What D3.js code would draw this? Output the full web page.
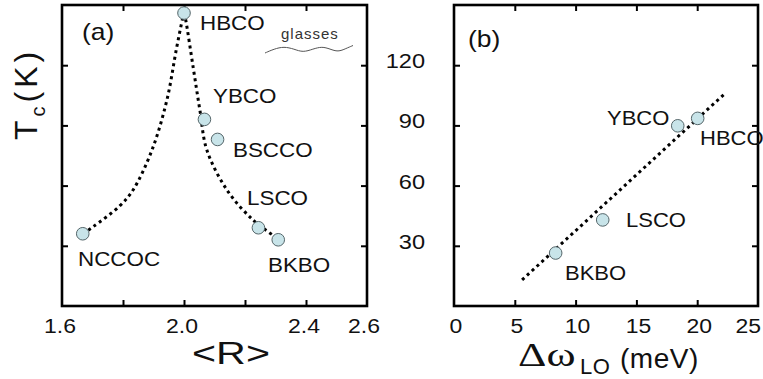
<!DOCTYPE html>
<html lang="en">
<head>
<meta charset="utf-8">
<title>Tc vs R and LO phonon shift</title>
<style>
  body { margin: 0; background: #fff; }
  svg { display: block; }
  text { font-family: "Liberation Sans", Arial, sans-serif; fill: #111; }
</style>
<script src="https://cdn.jsdelivr.net/npm/d3@7"></script>
</head>
<body>
<svg id="chart"></svg>
<script>
// ---- data ----
// panel (a): Tc against mean coordination <R>
const aNames = ["NCCOC", "HBCO", "YBCO", "BSCCO", "LSCO", "BKBO"];
const aR     = [1.668, 2.0, 2.067, 2.11, 2.244, 2.309];
const aTc    = [36, 146, 93, 83, 39, 33];
// dotted guide through the points (left and right branch)
const curveLeftR   = [1.668, 1.702, 1.79, 1.833, 1.895, 1.944, 1.975, 1.995];
const curveLeftTc  = [36, 39.5, 50, 57.8, 77.7, 102.7, 128, 143];
const curveRightR  = [2.005, 2.03, 2.052, 2.075, 2.141, 2.226, 2.305];
const curveRightTc = [143, 119, 97.7, 77.7, 57.8, 42.9, 33.9];

// panel (b): Tc against LO phonon softening
const bNames = ["BKBO", "LSCO", "YBCO", "HBCO"];
const bDw    = [8.36, 12.23, 18.4, 20.04];
const bTc    = [26.4, 42.9, 89.8, 93.5];
const fitDw  = [5.6, 22.3];
const fitTc  = [13, 106];

// ticks
const yTickVals   = [30, 60, 90, 120];
const aTickVals   = [1.8, 2.0, 2.2, 2.4];
const aLabelVals  = [1.6, 2.0, 2.4, 2.6];
const bTickVals   = [5, 10, 15, 20];
const bLabelVals  = [0, 5, 10, 15, 20, 25];

// "glasses" squiggle
const waveX = [265, 274, 284, 294, 303, 313, 322, 330, 338, 346, 353];
const waveY = [53, 49, 46.5, 49, 52.5, 49, 46.5, 49, 52, 48.5, 45.5];

// ---- layout ----
const width = 763, height = 379;
const plotTop = 5, plotBottom = 306;

const svg = d3.select("#chart").attr("width", width).attr("height", height);

const y  = d3.scaleLinear().domain([0, 150]).range([plotBottom, plotTop]);
const xA = d3.scaleLinear().domain([1.6, 2.6]).range([62, 367]);
const xB = d3.scaleLinear().domain([0, 25]).range([454, 758]);

const dotStyle = g => g.attr("fill", "none").attr("stroke", "#000")
    .attr("stroke-width", 3).attr("stroke-dasharray", "3,3.6");

function frame(x) {
    const [x0, x1] = x.range();
    const g = svg.append("g");
    // inward ticks on all four sides
    const axes = [
        [d3.axisBottom(x), `translate(0,${plotBottom})`, x === xA ? aTickVals : bTickVals],
        [d3.axisTop(x), `translate(0,${plotTop})`, x === xA ? aTickVals : bTickVals],
        [d3.axisLeft(y), `translate(${x0},0)`, yTickVals],
        [d3.axisRight(y), `translate(${x1},0)`, yTickVals]
    ];
    axes.forEach(([ax, tr, vals]) => {
        const a = g.append("g").attr("transform", tr)
            .call(ax.tickValues(vals).tickSize(-6).tickFormat(""));
        a.select(".domain").remove();
        a.selectAll("line").attr("stroke", "#000").attr("stroke-width", 2);
    });
    g.append("rect")
        .attr("x", x0).attr("y", plotTop)
        .attr("width", x1 - x0).attr("height", plotBottom - plotTop)
        .attr("fill", "none").attr("stroke", "#000").attr("stroke-width", 2.6);
}

function points(x, xs, ys) {
    svg.append("g").selectAll("circle")
        .data(xs.map((v, i) => [v, ys[i]]))
        .join("circle")
        .attr("cx", d => x(d[0]))
        .attr("cy", d => y(d[1]))
        .attr("r", 6.3)
        .attr("fill", "#c8e4e9")
        .attr("stroke", "#55666a")
        .attr("stroke-width", 1);
}

function label(x0, y0, s, size, spacing, anchor) {
    return svg.append("text")
        .attr("x", x0).attr("y", y0)
        .attr("font-size", size)
        .attr("letter-spacing", spacing)
        .attr("text-anchor", anchor || "start")
        .text(s);
}

// wide text: stretched horizontally like the original
function wide(x0, y0, s, size, sx, anchor) {
    return svg.append("text")
        .attr("transform", `translate(${x0},${y0}) scale(${sx},1)`)
        .attr("font-size", size)
        .attr("text-anchor", anchor || "start")
        .text(s);
}

// ---- panel (a) ----
const lineA = d3.line().x(d => xA(d[0])).y(d => y(d[1])).curve(d3.curveCatmullRom);
svg.append("path")
    .datum(curveLeftR.map((v, i) => [v, curveLeftTc[i]]).concat([[2.0, 146]]))
    .attr("d", lineA).call(dotStyle);
svg.append("path")
    .datum([[2.0, 146]].concat(curveRightR.map((v, i) => [v, curveRightTc[i]])))
    .attr("d", lineA).call(dotStyle);

frame(xA);
points(xA, aR, aTc);

const aLabelPos = {
    "NCCOC": [78, 266], "HBCO": [200, 30], "YBCO": [213, 103],
    "BSCCO": [233, 157], "LSCO": [247, 205], "BKBO": [268, 272]
};
aNames.forEach(n => wide(aLabelPos[n][0], aLabelPos[n][1], n, 20, 1.12));

wide(82, 40, "(a)", 23, 1.15);

// glasses squiggle
label(281, 39, "glasses", 15, 1).style("fill", "#333");
svg.append("path")
    .datum(waveX.map((v, i) => [v, waveY[i]]))
    .attr("d", d3.line().curve(d3.curveBasis))
    .attr("fill", "none").attr("stroke", "#555").attr("stroke-width", 1);

// x tick labels (a)
aLabelVals.forEach((v, i) => {
    const last = i === aLabelVals.length - 1;
    wide(last ? 380 : xA(v) - 2, 333, d3.format(".1f")(v), 20, 1.15, last ? "end" : "middle");
});

// axis titles (a)
wide(231, 364, "<R>", 31, 1.33, "middle");
const tc = svg.append("text")
    .attr("transform", "translate(37,140) rotate(-90)")
    .attr("font-size", 32).attr("letter-spacing", 4);
tc.append("tspan").text("T");
tc.append("tspan").attr("font-size", 20).attr("dy", 8).text("c");
tc.append("tspan").attr("dy", -8).text("(K)");

// ---- panel (b) ----
svg.append("path")
    .datum(fitDw.map((v, i) => [v, fitTc[i]]))
    .attr("d", d3.line().x(d => xB(d[0])).y(d => y(d[1])))
    .call(dotStyle);

frame(xB);
points(xB, bDw, bTc);

const bLabelPos = {
    "BKBO": [565, 280], "LSCO": [626, 227], "YBCO": [607, 125], "HBCO": [700, 145]
};
bNames.forEach(n => wide(bLabelPos[n][0], bLabelPos[n][1], n, 20, 1.1));

wide(468, 47, "(b)", 23, 1.15);

// y tick labels (shared scale, shown on panel b)
yTickVals.forEach(v => wide(425, y(v) + 3, v, 20.5, 1.15, "end"));

// x tick labels (b)
bLabelVals.forEach((v, i) => {
    const last = i === bLabelVals.length - 1;
    wide(last ? 761 : xB(v) + 2, 333, v, 20.5, 1.12, last ? "end" : "middle");
});

// axis title (b)
wide(518, 366, "Δω", 34, 1.3)
    .style("font-family", "'Liberation Serif', 'DejaVu Serif', serif");
label(580, 374, "LO", 22, 0.5);
label(620, 368, "(meV)", 28, 0.5);
</script>
</body>
</html>
